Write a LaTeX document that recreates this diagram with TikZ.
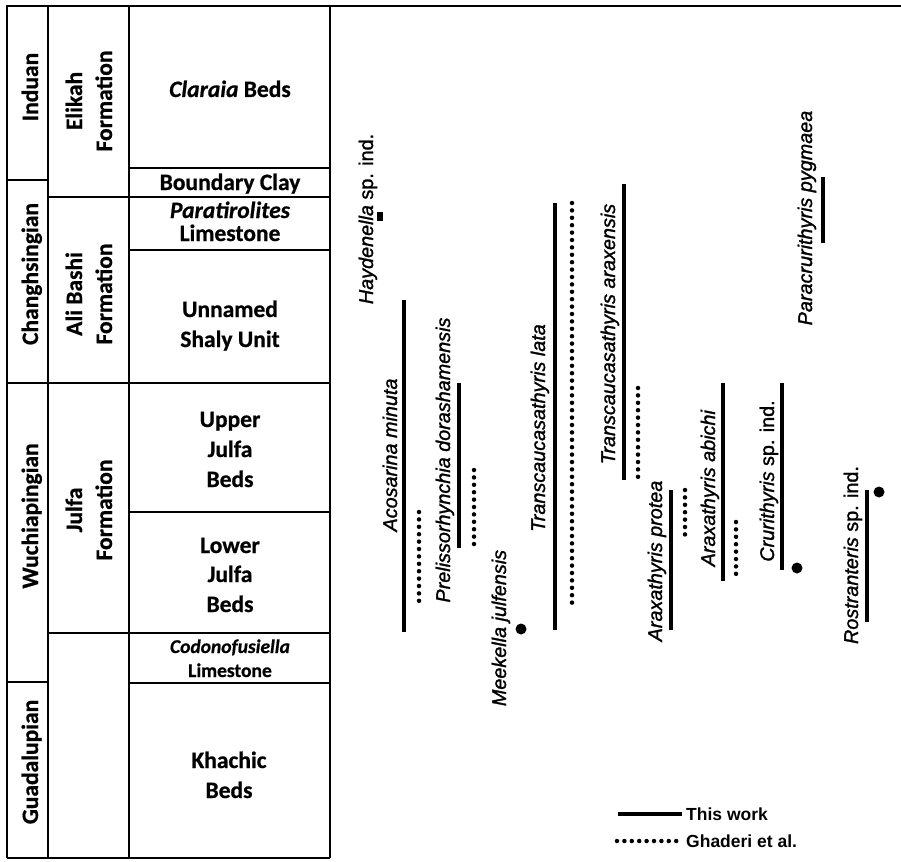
\documentclass[tikz,border=0pt]{standalone}
\usepackage{fontspec}
\setmainfont{Carlito}[BoldFeatures={FakeBold=0.7},BoldItalicFeatures={FakeBold=0.7}]
\newfontfamily\arialf{Liberation Sans}
\newfontfamily\sparial{Liberation Sans}[UprightFeatures={FakeBold=1.4},ItalicFeatures={FakeBold=1.4}]
\begin{document}
\begin{tikzpicture}[x=1pt,y=-1pt,
  frame/.style={line width=1.9pt},
  unit/.style={inner sep=0pt, font=\fontsize{23.5}{29}\selectfont\bfseries},
  unitsm/.style={inner sep=0pt, font=\fontsize{19.5}{24}\selectfont\bfseries},
  vunit/.style={unit, rotate=90, anchor=base},
  cunit/.style={unit, anchor=base},
  sp/.style={rotate=90, anchor=base, inner sep=0pt, font=\sparial\fontsize{19.8}{23}\selectfont},
  rng/.style={line width=4.8pt},
  ghd/.style={line width=4.5pt, line cap=round, dash pattern=on 0pt off 7.4pt},
  bigdot/.style={circle, fill=black, inner sep=0pt, minimum size=11pt},
  legtxt/.style={anchor=west, inner sep=0pt, font=\arialf\bfseries\fontsize{17.5}{20}\selectfont}]
\useasboundingbox (0,0) rectangle (901,861);
% frame
\draw[frame] (6,6) -- (901,6);
\draw[frame] (7,6) -- (7,858);
\draw[frame] (48,6) -- (48,858);
\draw[frame] (129,6) -- (129,858);
\draw[frame] (330,6) -- (330,858);
\draw[frame] (7,858) -- (330,858);
\foreach \yy in {180,383,682} \draw[frame] (7,\yy) -- (48,\yy);
\foreach \yy in {197,383,633} \draw[frame] (48,\yy) -- (129,\yy);
\foreach \yy in {168,197,250,383,512,633,683} \draw[frame] (129,\yy) -- (330,\yy);
% stages
\node[vunit] (induan) at (38,87) {Induan};
\node[vunit] (chang) at (38,274) {Changhsingian};
\node[vunit] (wuch) at (38,516) {Wuchiapingian};
\node[vunit] (guad) at (38,762) {Guadalupian};
% formations
\node[vunit] (elik1) at (82,101) {Elikah};
\node[vunit] (elik2) at (112,101) {Formation};
\node[vunit] (ali1) at (82,294) {Ali Bashi};
\node[vunit] (ali2) at (112,294) {Formation};
\node[vunit] (jul1) at (82,510) {Julfa};
\node[vunit] (jul2) at (112,510) {Formation};
% units
\node[cunit] (clar) at (230,97) {\textit{Claraia} Beds};
\node[cunit] (bcl) at (230,190) {Boundary Clay};
\node[cunit] (par1) at (230,218) {\textit{Paratirolites}};
\node[cunit] (par2) at (230,241) {Limestone};
\node[cunit] (unn1) at (230,317) {Unnamed};
\node[cunit] (unn2) at (230,347) {Shaly Unit};
\node[cunit] (up1) at (230,427) {Upper};
\node[cunit] (up2) at (230,457) {Julfa};
\node[cunit] (up3) at (230,487) {Beds};
\node[cunit] (lo1) at (230,553) {Lower};
\node[cunit] (lo2) at (230,582) {Julfa};
\node[cunit] (lo3) at (230,612) {Beds};
\node[unitsm, anchor=base] (cod1) at (230,653) {\textit{Codonofusiella}};
\node[unitsm, anchor=base] (cod2) at (230,677) {Limestone};
\node[cunit] (kh1) at (229,768) {Khachic};
\node[cunit] (kh2) at (229,798) {Beds};
% species labels
\node[sp] (hayd) at (373,219) {\textit{Haydenella} sp. ind.};
\node[sp] (acos) at (397,455) {\textit{Acosarina minuta}};
\node[sp] (prel) at (450,460) {\textit{Prelissorhynchia dorashamensis}};
\node[sp] (meek) at (506,628) {\textit{Meekella julfensis}};
\node[sp] (tlat) at (545,428) {\textit{Transcaucasathyris lata}};
\node[sp] (tara) at (615,334) {\textit{Transcaucasathyris araxensis}};
\node[sp] (apro) at (662,561) {\textit{Araxathyris protea}};
\node[sp] (aabi) at (715,488) {\textit{Araxathyris abichi}};
\node[sp] (crur) at (774,481) {\textit{Crurithyris} sp. ind.};
\node[sp] (parc) at (812,218) {\textit{Paracrurithyris pygmaea}};
\node[sp] (rost) at (858,555) {\textit{Rostranteris} sp. ind.};
% ranges: this work
\draw[line width=6pt] (380,212) -- (380,221);
\draw[rng] (404,300) -- (404,632);
\draw[rng] (459,383) -- (459,548);
\draw[rng] (555,203) -- (555,630);
\draw[rng] (624,184) -- (624,480);
\draw[rng] (671,490) -- (671,630);
\draw[rng] (723,383) -- (723,581);
\draw[rng] (782,383) -- (782,570);
\draw[rng] (823,177) -- (823,243);
\draw[rng] (867,490) -- (867,622);
% ranges: Ghaderi et al.
\draw[ghd] (419,512) -- (419,607);
\draw[ghd] (474,470) -- (474,547);
\draw[ghd] (572,203) -- (572,609);
\draw[ghd] (638,388) -- (638,479);
\draw[ghd] (685,490) -- (685,538);
\draw[ghd] (736,522) -- (736,579);
% single occurrences
\node[bigdot] (d1) at (521,629) {};
\node[bigdot] (d2) at (797,568) {};
\node[bigdot] (d3) at (879,492) {};
% legend
\coordinate (la) at (618,814);
\coordinate (lb) at (682,814);
\draw[rng] (la) -- (lb);
\node[legtxt] (lt1) at (686,814) {This work};
\coordinate (lc) at (617,841);
\coordinate (ld) at (682,841);
\draw[ghd] (lc) -- (ld);
\node[legtxt] (lt2) at (686,841) {Ghaderi et al.};
\end{tikzpicture}
\end{document}
